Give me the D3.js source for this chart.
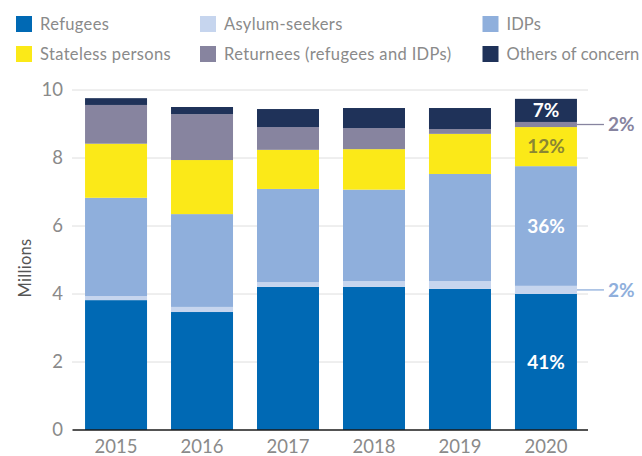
<!DOCTYPE html>
<html>
<head>
<meta charset="utf-8">
<script src="https://cdn.jsdelivr.net/npm/d3@7"></script>
<style>
  html, body { margin: 0; padding: 0; background: #fff; }
  svg { display: block; font-family: Lato, "Open Sans", sans-serif; }
</style>
</head>
<body>
<svg id="chart" width="642" height="456"></svg>
<script>
// Population of concern by category, millions
const years = ["2015", "2016", "2017", "2018", "2019", "2020"];
const refugees  = [3.82, 3.47, 4.21, 4.21, 4.15, 4.00];
const asylum    = [0.12, 0.15, 0.14, 0.17, 0.23, 0.24];
const idps      = [2.89, 2.73, 2.74, 2.69, 3.15, 3.52];
const stateless = [1.59, 1.59, 1.15, 1.19, 1.18, 1.15];
const returnees = [1.14, 1.35, 0.67, 0.62, 0.14, 0.15];
const others    = [0.20, 0.21, 0.53, 0.59, 0.62, 0.68];
const yTicks = [0, 2, 4, 6, 8, 10];

const seriesNames = ["Refugees", "Asylum-seekers", "IDPs", "Stateless persons", "Returnees (refugees and IDPs)", "Others of concern"];
const seriesKeys = ["refugees", "asylum", "idps", "stateless", "returnees", "others"];
const seriesValues = [refugees, asylum, idps, stateless, returnees, others];
const colors = ["#0069b4", "#c6d5ee", "#8fafdc", "#fbe918", "#87849f", "#1f3259"];

const rows = years.map((y, i) => {
  const r = { year: y };
  seriesKeys.forEach((k, j) => { r[k] = seriesValues[j][i]; });
  return r;
});

const svg = d3.select("#chart");
const textGray = "#8a8a8a";

const x = d3.scaleBand().domain(years).range([73, 589]).paddingInner(0.279).paddingOuter(0.14);
const y = d3.scaleLinear().domain([0, 10]).range([430, 90]);
const color = d3.scaleOrdinal().domain(seriesKeys).range(colors);

// Legend: two rows of three entries
const legendCols = [16, 200, 482.5];
const legendRows = [16, 46];
const legendSpacing = [0.35, 0.35, 0.1];
const legend = svg.append("g");
seriesNames.forEach((name, i) => {
  const col = i % 3;
  const lx = legendCols[col], ly = legendRows[Math.floor(i / 3)];
  legend.append("rect").attr("x", lx).attr("y", ly).attr("width", 16).attr("height", 16)
    .attr("fill", colors[i]);
  legend.append("text").attr("x", lx + 24).attr("y", ly + 13.5)
    .attr("font-size", 16.5).attr("letter-spacing", legendSpacing[col])
    .attr("fill", textGray).text(name);
});

// Gridlines
svg.append("g").selectAll("line").data(yTicks.filter(d => d > 0)).join("line")
  .attr("x1", 72).attr("x2", 588)
  .attr("y1", d => y(d)).attr("y2", d => y(d))
  .attr("stroke", "#dedede").attr("stroke-width", 1);

// Y axis labels
const yAxis = d3.axisLeft(y).tickValues(yTicks).tickSize(0).tickPadding(9).tickFormat(d3.format("d"));
svg.append("g").attr("transform", "translate(72,0)").call(yAxis)
  .call(g => g.select(".domain").remove())
  .call(g => g.selectAll("text").attr("font-size", 18.5).attr("fill", textGray)
    .attr("font-family", "Lato, sans-serif"));

svg.append("text")
  .attr("transform", "translate(31,268) rotate(-90)")
  .attr("text-anchor", "middle").attr("font-size", 16.5).attr("letter-spacing", 0.3)
  .attr("fill", "#555").text("Millions");

// Stacked bars
const stack = d3.stack().keys(seriesKeys);
const stacked = stack(rows);
svg.append("g").selectAll("g").data(stacked).join("g")
  .attr("fill", d => color(d.key))
  .selectAll("rect").data(d => d).join("rect")
  .attr("x", d => x(d.data.year))
  .attr("width", x.bandwidth())
  .attr("y", d => y(d[1]))
  .attr("height", d => y(d[0]) - y(d[1]));

// Baseline and x axis labels
const xAxis = d3.axisBottom(x).tickSize(0).tickPadding(10);
svg.append("g").attr("transform", `translate(0,${y(0)})`).call(xAxis)
  .call(g => g.select(".domain").attr("stroke", "#1a1a1a").attr("stroke-width", 1.4)
    .attr("transform", "translate(72.5,0)").attr("d", "M0,0H515.5"))
  .call(g => g.selectAll("text").attr("font-size", 18.5).attr("fill", textGray)
    .attr("font-family", "Lato, sans-serif"));

// Share of total for the latest year
const last = stacked.map(s => s[s.length - 1]);
const total = last[last.length - 1][1];
const pct = d => Math.round((d[1] - d[0]) / total * 100) + "%";
const lastYear = years[years.length - 1];
const cx = x(lastYear) + x.bandwidth() / 2;
const inside = [
  { i: 0, fill: "#ffffff" },
  { i: 2, fill: "#ffffff" },
  { i: 3, fill: "#8a8632" },
  { i: 5, fill: "#ffffff" }
];
svg.append("g").selectAll("text").data(inside).join("text")
  .attr("x", cx)
  .attr("y", d => y((last[d.i][0] + last[d.i][1]) / 2))
  .attr("dy", "0.36em")
  .attr("text-anchor", "middle")
  .attr("font-size", 19).attr("font-weight", 700)
  .attr("fill", d => d.fill)
  .text(d => pct(last[d.i]));

// Callouts for the thin segments
const callouts = [
  { i: 4, fill: "#87849f" },
  { i: 1, fill: "#8fafdc" }
];
const barRight = x(lastYear) + x.bandwidth();
const co = svg.append("g").selectAll("g").data(callouts).join("g")
  .attr("transform", d => `translate(0,${y((last[d.i][0] + last[d.i][1]) / 2)})`);
co.append("line").attr("x1", barRight).attr("x2", barRight + 27)
  .attr("stroke", d => d.fill).attr("stroke-width", 1.3);
co.append("text").attr("x", barRight + 31).attr("dy", "0.36em")
  .attr("font-size", 19).attr("font-weight", 700)
  .attr("fill", d => d.fill)
  .text(d => pct(last[d.i]));
</script>
</body>
</html>
